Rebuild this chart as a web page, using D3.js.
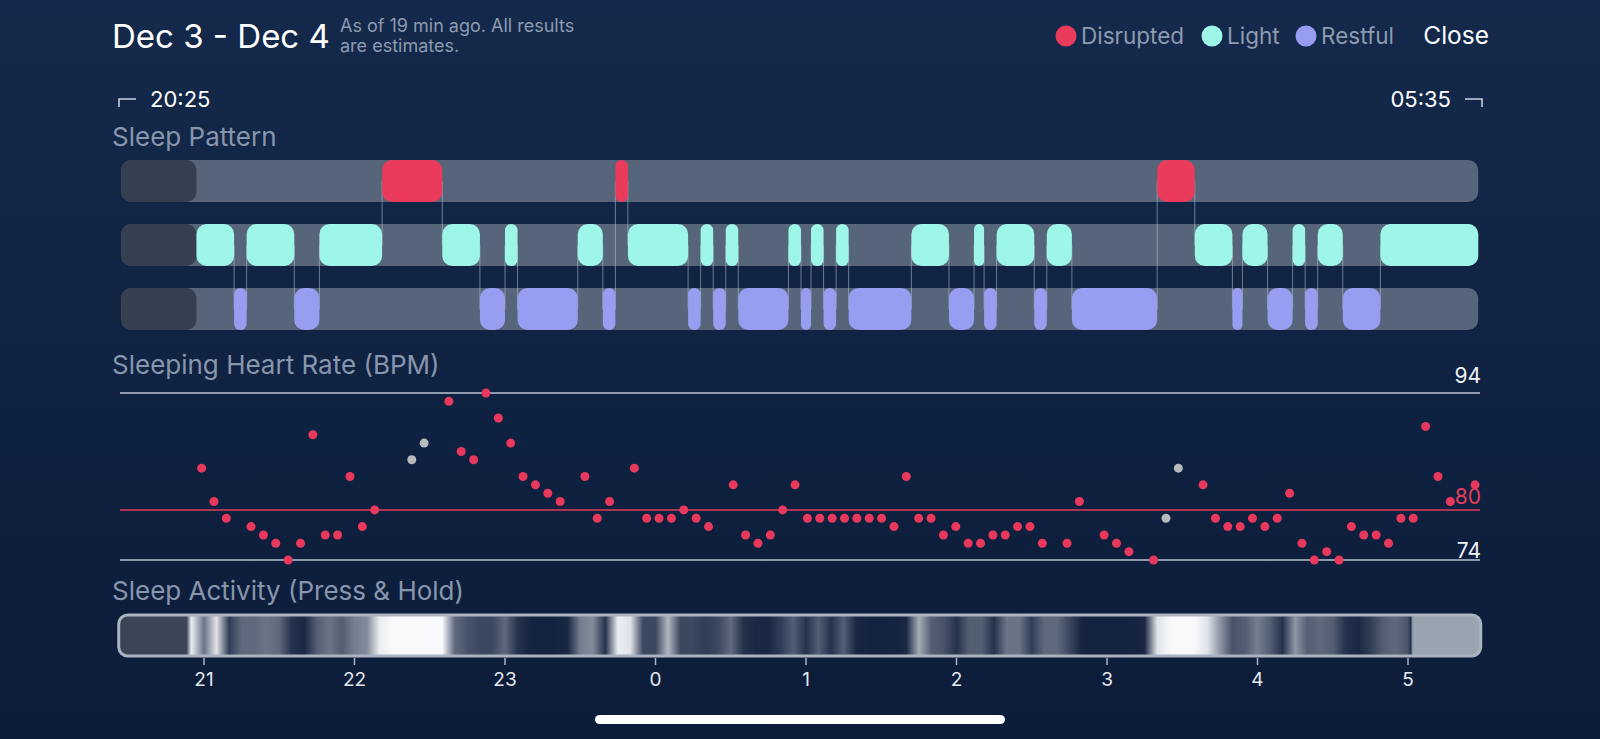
<!DOCTYPE html>
<html>
<head>
<meta charset="utf-8">
<script src="https://cdn.jsdelivr.net/npm/d3@7"></script>
<style>
  body { margin: 0; background: #10233f; overflow: hidden; }
  svg { display: block; font-family: Inter, Roboto, "Noto Sans", sans-serif; }
</style>
</head>
<body>
<div id="chart"></div>
<script>
// Sleep stages: stage i runs from stageTimes[i] to stageTimes[i+1]
var stageRows = ["disrupted", "light", "restful"];
var stageTimes = ["20:57","21:12","21:17","21:36","21:46","22:11","22:35","22:50","23:00","23:05",
  "23:29","23:39","23:44","23:49","00:13","00:18","00:23","00:28","00:33","00:53",
  "00:58","01:02","01:07","01:12","01:17","01:42","01:57","02:07","02:11","02:16",
  "02:31","02:36","02:46","03:20","03:35","03:50","03:54","04:04","04:14","04:19",
  "04:24","04:34","04:49","05:28"];
var stages = ["light","restful","light","restful","light","disrupted","light","restful","light","restful",
  "light","restful","disrupted","light","restful","light","restful","light","restful","light",
  "restful","light","restful","light","restful","light","restful","light","restful","light",
  "restful","light","restful","disrupted","light","restful","light","restful","light","restful",
  "light","restful","light"];
var trackStart = "20:27", trackEnd = "05:28";
var rangeStart = "20:25", rangeEnd = "05:35";

// Heart rate: one reading every 5 min from hrStart (null = no reading)
var hrStart = "20:58", hrStepMin = 5;
var hrValues = [85,81,79,null,78,77,76,74,76,89,
  77,77,84,78,80,null,null,86,88,null,
  93,87,86,94,91,88,84,83,82,81,
  null,84,79,81,null,85,79,79,79,80,
  79,78,null,83,77,76,77,80,83,79,
  79,79,79,79,79,79,78,84,79,79,
  77,78,76,76,77,77,78,78,76,null,
  76,81,null,77,76,75,null,74,79,85,
  null,83,79,78,78,79,78,79,82,76,
  74,75,74,78,77,77,76,79,79,90,
  84,81,null,83];
var hrGrey = [17, 18, 78, 79];   // readings shown in grey
var hrLines = [94, 80, 74];

// Sleep activity intensity (0 = still, 1 = most active), every 5 min from activityStart
var activityStart = "20:55", activityEnd = "05:02";
var activity = [0.95,0.4,0.9,0.15,0.35,0.35,0.4,0.35,0.1,0.05,
  0.3,0.4,0.3,0.45,0.5,0.95,1,1,1,1,
  1,0.35,0.25,0.2,0.2,0.35,0.1,0.03,0.03,0.03,
  0.05,0.45,0.5,0.1,0.95,0.9,0.2,0.2,0.7,0.2,
  0.2,0.15,0.2,0.35,0.1,0.05,0.05,0.15,0.3,0.1,
  0.3,0.1,0.3,0.05,0.03,0.03,0.03,0.05,0.65,0.3,
  0.25,0.1,0.3,0.3,0.1,0.4,0.4,0.15,0.35,0.35,
  0.2,0.03,0.03,0.03,0.03,0.03,0.05,0.9,1,1,
  1,0.9,0.55,0.25,0.3,0.45,0.3,0.1,0.55,0.3,
  0.35,0.3,0.1,0.05,0.15,0.3,0.35,0.25];

var hourTicks = [21, 22, 23, 0, 1, 2, 3, 4, 5];
var legendItems = ["Disrupted", "Light", "Restful"];

var width = 1600, height = 739;
var color = {disrupted: "#eb3b5c", light: "#9ef6e8", restful: "#979ef1"};

function toHour(s) {
    var p = s.split(":");
    var h = +p[0] + p[1] / 60;
    return h < 12 ? h + 24 : h;
}

var x = d3.scaleLinear().domain([21, 29]).range([204, 1408]);
var xHr = d3.scaleLinear().domain([toHour(rangeStart), toHour(rangeEnd)]).range([120, 1480]);
var yHr = d3.scaleLinear().domain([74, 94]).range([560, 393]);
var yRow = d3.scaleBand().domain(stageRows).range([160, 330]).paddingInner(0.344);

var svg = d3.select("#chart").append("svg")
    .attr("width", width)
    .attr("height", height);

var defs = svg.append("defs");
var bg = defs.append("linearGradient").attr("id", "bg")
    .attr("x1", 0).attr("y1", 0).attr("x2", 0).attr("y2", 1);
bg.append("stop").attr("offset", 0).attr("stop-color", "#14294b");
bg.append("stop").attr("offset", 1).attr("stop-color", "#0c1c39");

svg.append("rect").attr("width", width).attr("height", height).attr("fill", "url(#bg)");

// ---- header
svg.append("text")
    .attr("x", 112).attr("y", 48)
    .attr("fill", "#ffffff")
    .style("font-size", "33px")
    .text("Dec 3 - Dec 4");

var sub = svg.append("text")
    .attr("x", 340).attr("y", 32)
    .attr("fill", "#8d9bb1")
    .style("font-size", "18px");
sub.append("tspan").attr("x", 340).text("As of 19 min ago. All results");
sub.append("tspan").attr("x", 340).attr("dy", 20).text("are estimates.");

// legend
var legendX = [1066, 1212, 1306];
var legend = svg.selectAll(".legend")
    .data(legendItems)
    .enter().append("g")
    .attr("class", "legend")
    .attr("transform", function(d, i) { return "translate(" + legendX[i] + ",36)"; });
legend.append("circle").attr("r", 10.5)
    .attr("fill", function(d) { return color[d.toLowerCase()]; });
legend.append("text")
    .attr("x", 15).attr("y", 7.5)
    .attr("fill", "#8d9bb1")
    .style("font-size", "22.5px")
    .text(function(d) { return d; });

svg.append("text")
    .attr("x", 1489).attr("y", 44)
    .attr("text-anchor", "end")
    .attr("fill", "#ffffff")
    .style("font-size", "24.5px")
    .text("Close");

// start / end time with corner marks
svg.append("path")
    .attr("d", "M119,107 V99 H136 M1465,99 H1482 V107")
    .attr("fill", "none")
    .attr("stroke", "#c8d0dc")
    .attr("stroke-width", 1.6);
svg.append("text")
    .attr("x", 150).attr("y", 107)
    .attr("fill", "#ffffff")
    .style("font-size", "22px")
    .text(rangeStart);
svg.append("text")
    .attr("x", 1451).attr("y", 107)
    .attr("text-anchor", "end")
    .attr("fill", "#ffffff")
    .style("font-size", "22px")
    .text(rangeEnd);

// section titles
var titles = [["Sleep Pattern", 146], ["Sleeping Heart Rate (BPM)", 374], ["Sleep Activity (Press & Hold)", 600]];
svg.selectAll(".section")
    .data(titles)
    .enter().append("text")
    .attr("class", "section")
    .attr("x", 112)
    .attr("y", function(d) { return d[1]; })
    .attr("fill", "#8796ad")
    .style("font-size", "26px")
    .text(function(d) { return d[0]; });

// ---- sleep pattern
var segs = stages.map(function(s, i) {
    return {stage: s, t0: toHour(stageTimes[i]), t1: toHour(stageTimes[i + 1])};
});
var tx0 = x(toHour(trackStart)), tx1 = x(toHour(trackEnd));
var bw = yRow.bandwidth();

svg.selectAll(".track")
    .data(stageRows)
    .enter().append("rect")
    .attr("class", "track")
    .attr("x", tx0).attr("width", tx1 - tx0)
    .attr("y", function(d) { return yRow(d); })
    .attr("height", bw)
    .attr("rx", 10)
    .attr("fill", "#56657a");

svg.selectAll(".preSleep")
    .data(stageRows)
    .enter().append("rect")
    .attr("class", "preSleep")
    .attr("x", tx0).attr("width", x(toHour(stageTimes[0])) - tx0)
    .attr("y", function(d) { return yRow(d); })
    .attr("height", bw)
    .attr("rx", 10)
    .attr("fill", "#363f50");

// connector lines at each change of stage
var changes = segs.slice(1).map(function(d, i) {
    return {t: d.t0, a: segs[i].stage, b: d.stage};
});
svg.selectAll(".link")
    .data(changes)
    .enter().append("line")
    .attr("class", "link")
    .attr("x1", function(d) { return x(d.t); })
    .attr("x2", function(d) { return x(d.t); })
    .attr("y1", function(d) { return Math.min(yRow(d.a), yRow(d.b)) + bw / 2; })
    .attr("y2", function(d) { return Math.max(yRow(d.a), yRow(d.b)) + bw / 2; })
    .attr("stroke", "#b9c3d2")
    .attr("stroke-opacity", 0.55)
    .attr("stroke-width", 1);

svg.selectAll(".seg")
    .data(segs)
    .enter().append("rect")
    .attr("class", "seg")
    .attr("x", function(d) { return x(d.t0); })
    .attr("width", function(d) { return x(d.t1) - x(d.t0); })
    .attr("y", function(d) { return yRow(d.stage); })
    .attr("height", bw)
    .attr("rx", function(d) { return Math.min(10, (x(d.t1) - x(d.t0)) / 2); })
    .attr("fill", function(d) { return color[d.stage]; });

// ---- heart rate
svg.selectAll(".hrLine")
    .data(hrLines)
    .enter().append("line")
    .attr("class", "hrLine")
    .attr("x1", 120).attr("x2", 1480)
    .attr("y1", function(d) { return yHr(d); })
    .attr("y2", function(d) { return yHr(d); })
    .attr("stroke", function(d) { return d == 80 ? "#e23d5c" : "#8e9bb0"; })
    .attr("stroke-width", function(d) { return d == 80 ? 1.5 : 2; });

var labelDy = {94: -10, 80: -6, 74: -2};
svg.selectAll(".hrLabel")
    .data(hrLines)
    .enter().append("text")
    .attr("class", "hrLabel")
    .attr("x", 1481)
    .attr("y", function(d) { return yHr(d) + labelDy[d]; })
    .attr("text-anchor", "end")
    .attr("fill", function(d) { return d == 80 ? "#e23d5c" : "#eef1f5"; })
    .style("font-size", "21px")
    .text(function(d) { return d; });

var hr0 = toHour(hrStart);
var hrData = [];
hrValues.forEach(function(v, i) {
    if (v !== null) hrData.push({t: hr0 + i * hrStepMin / 60, v: v, grey: hrGrey.indexOf(i) >= 0});
});
svg.selectAll(".hrDot")
    .data(hrData)
    .enter().append("circle")
    .attr("class", "hrDot")
    .attr("cx", function(d) { return xHr(d.t); })
    .attr("cy", function(d) { return yHr(d.v); })
    .attr("r", 4.5)
    .attr("fill", function(d) { return d.grey ? "#b6babf" : "#e8385b"; });

// ---- sleep activity bar
var bx0 = x(toHour("20:26")), bx1 = x(toHour("05:29"));
var ramp = d3.interpolateRgb("#0d1c39", "#f7f9fb");
var act = defs.append("linearGradient").attr("id", "act")
    .attr("gradientUnits", "userSpaceOnUse")
    .attr("x1", bx0).attr("x2", bx1).attr("y1", 0).attr("y2", 0);
function off(t) { return (x(t) - bx0) / (bx1 - bx0); }
var a0 = toHour(activityStart), aEnd = toHour(activityEnd);
var stops = [{o: 0, c: "#3b4556"}, {o: off(a0 - 2 / 60), c: "#3b4556"}];
activity.forEach(function(v, i) {
    stops.push({o: off(a0 + i * 5 / 60), c: ramp(v)});
});
stops.push({o: off(aEnd - 1 / 60), c: ramp(0.1)});
stops.push({o: off(aEnd), c: "#9aa4b1"});
stops.push({o: 1, c: "#9aa4b1"});
act.selectAll("stop")
    .data(stops)
    .enter().append("stop")
    .attr("offset", function(d) { return d.o; })
    .attr("stop-color", function(d) { return d.c; });

svg.append("rect")
    .attr("x", bx0).attr("width", bx1 - bx0)
    .attr("y", 615).attr("height", 41)
    .attr("rx", 9)
    .attr("fill", "url(#act)")
    .attr("stroke", "#a9b3c1")
    .attr("stroke-width", 3);

var ticks = svg.selectAll(".tick")
    .data(hourTicks)
    .enter().append("g")
    .attr("class", "tick")
    .attr("transform", function(d) { return "translate(" + x(d < 12 ? d + 24 : d) + ",0)"; });
ticks.append("line")
    .attr("y1", 658).attr("y2", 665)
    .attr("stroke", "#a9b3c1")
    .attr("stroke-width", 1.5);
ticks.append("text")
    .attr("y", 686)
    .attr("text-anchor", "middle")
    .attr("fill", "#e4e9ef")
    .style("font-size", "19px")
    .text(function(d) { return d; });

// home indicator
svg.append("rect")
    .attr("x", 595).attr("y", 715)
    .attr("width", 410).attr("height", 9)
    .attr("rx", 4.5)
    .attr("fill", "#ffffff");
</script>
</body>
</html>
